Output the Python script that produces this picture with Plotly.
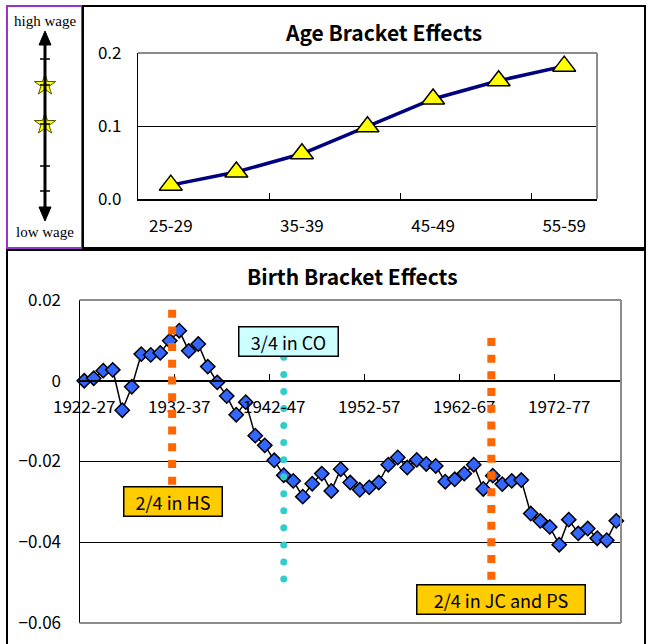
import numpy as np
import plotly.graph_objects as go

W, H = 651, 644
FONT = "Noto Sans CJK JP"

# ---------------- data ----------------
ages = ["25-29", "30-34", "35-39", "40-44", "45-49", "50-54", "55-59"]
age_effects = [0.019, 0.037, 0.062, 0.099, 0.137, 0.162, 0.182]
age_ytick_vals = [0.0, 0.1, 0.2]
age_ytick_text = ["0.0", "0.1", "0.2"]

cohorts = [f"{y}-{(y + 5) % 100:02d}" for y in range(1922, 1979)]
birth_effects = [
    0.0000, 0.0006, 0.0025, 0.0027, -0.0073, -0.0015, 0.0066, 0.0064, 0.0069, 0.0099,
    0.0124, 0.0074, 0.0091, 0.0035, -0.0004, -0.0038, -0.0084, -0.0053, -0.0136, -0.0160,
    -0.0197, -0.0234, -0.0248, -0.0287, -0.0255, -0.0230, -0.0273, -0.0219, -0.0252, -0.0270,
    -0.0264, -0.0252, -0.0208, -0.0190, -0.0215, -0.0196, -0.0206, -0.0211, -0.0250, -0.0244,
    -0.0230, -0.0208, -0.0268, -0.0235, -0.0256, -0.0248, -0.0246, -0.0329, -0.0347, -0.0362,
    -0.0406, -0.0344, -0.0378, -0.0366, -0.0390, -0.0395, -0.0347,
]
birth_ytick_vals = [0.02, 0.0, -0.02, -0.04, -0.06]
birth_ytick_text = ["0.02", "0", "\u22120.02", "\u22120.04", "\u22120.06"]

# marker lines (category position, top value, label, label value)
hs_marker = dict(x=9.25, top=0.0176, label="2/4 in HS", label_y=-0.0300, label_x=9.3, w=95)
co_marker = dict(x=21.0, top=0.0058, bottom=-0.0491, label="3/4 in CO", label_y=0.0097, label_x=21.55, w=96)
jc_marker = dict(x=42.85, top=0.0106, label="2/4 in JC and PS", label_y=-0.0541, label_x=43.9, w=165)

# ---------------- figure ----------------
fig = go.Figure()

age_idx = np.arange(len(ages))
fig.add_trace(go.Scatter(
    x=age_idx, y=age_effects, mode="lines+markers",
    line=dict(color="#000080", width=3.5),
    marker=dict(symbol="triangle-up", size=20, color="#FFFF00",
                line=dict(color="black", width=1.5)),
    xaxis="x", yaxis="y", showlegend=False, cliponaxis=False,
))

b_idx = np.arange(len(cohorts))
fig.add_trace(go.Scatter(
    x=b_idx, y=birth_effects, mode="lines+markers",
    line=dict(color="black", width=1.5),
    marker=dict(symbol="diamond", size=11, color="#3366FF",
                line=dict(color="black", width=1.5)),
    xaxis="x2", yaxis="y2", showlegend=False, cliponaxis=False,
))

# cyan dotted line (round dots)
co_dots_y = np.linspace(co_marker["top"], co_marker["bottom"], 14)
fig.add_trace(go.Scatter(
    x=[co_marker["x"]] * len(co_dots_y), y=co_dots_y, mode="markers",
    marker=dict(size=7, color="#33CCCC"),
    xaxis="x2", yaxis="y2", showlegend=False, cliponaxis=False,
))

# left legend stars (pixel overlay axes)
fig.add_trace(go.Scatter(
    x=[45, 45], y=[85, 124], mode="markers",
    marker=dict(symbol="star", size=16, color="#FFFF00",
                line=dict(color="#555500", width=1)),
    xaxis="x3", yaxis="y3", showlegend=False,
))

top_x = [138 / W, 597 / W]
top_y = [1 - 199 / H, 1 - 53 / H]
bot_x = [79.5 / W, 621 / W]
bot_y = [1 - 623 / H, 1 - 300 / H]
brange = [-0.06, 0.02]
x2_pos = bot_y[0] + (0 - brange[0]) / (brange[1] - brange[0]) * (bot_y[1] - bot_y[0])

tickfont = dict(family=FONT, size=17, color="black")

fig.update_layout(
    width=W, height=H, margin=dict(l=0, r=0, t=0, b=0, autoexpand=False),
    paper_bgcolor="white", plot_bgcolor="rgba(0,0,0,0)",
    xaxis=dict(domain=top_x, anchor="y", range=[-0.5, len(ages) - 0.5], automargin=False,
               tickmode="array", tickvals=age_idx[::2], ticktext=ages[::2],
               ticks="", showgrid=False, zeroline=False,
               showline=True, linecolor="black", linewidth=1.5,
               minor=dict(tickmode="array", tickvals=np.arange(1.5, len(ages) - 1, 2),
                          ticks="inside", ticklen=6, tickcolor="black", tickwidth=1, showgrid=False),
               tickfont=tickfont, ticklabelstandoff=11),
    yaxis=dict(domain=top_y, anchor="x", range=[0, 0.2], automargin=False,
               tickmode="array", tickvals=age_ytick_vals, ticktext=age_ytick_text,
               ticks="inside", ticklen=5, tickcolor="black",
               showgrid=True, gridcolor="black", gridwidth=1, zeroline=False,
               showline=True, linecolor="black", linewidth=1.2,
               tickfont=tickfont, ticklabelstandoff=12),
    xaxis2=dict(domain=bot_x, anchor="free", position=x2_pos, range=[-0.5, len(cohorts) - 0.5],
                automargin=False,
                tickmode="array", tickvals=b_idx[::10], ticktext=cohorts[::10],
                ticks="", showgrid=False, zeroline=False,
                showline=True, linecolor="black", linewidth=1.5,
                minor=dict(tickmode="array", tickvals=np.arange(9.5, len(cohorts) - 1, 10),
                           ticks="inside", ticklen=6, tickcolor="black", tickwidth=1, showgrid=False),
                tickfont=tickfont, ticklabelstandoff=11),
    yaxis2=dict(domain=bot_y, anchor="x2", range=brange, automargin=False,
                tickmode="array", tickvals=birth_ytick_vals, ticktext=birth_ytick_text,
                ticks="inside", ticklen=5, tickcolor="black",
                showgrid=True, gridcolor="black", gridwidth=1, zeroline=False,
                showline=True, linecolor="black", linewidth=1.2,
                tickfont=tickfont, ticklabelstandoff=14),
    xaxis3=dict(domain=[0, 1], anchor="y3", range=[0, W], visible=False, fixedrange=True,
                automargin=False),
    yaxis3=dict(domain=[0, 1], anchor="x3", range=[H, 0], visible=False, fixedrange=True,
                automargin=False),
)

shapes = []
GRAY = "#8c8c8c"
# plot area gray frames
for xr, yr, sides in [("x domain", "y domain", ["top", "right"]),
                      ("x2 domain", "y2 domain", ["top", "right", "bottom"])]:
    if "top" in sides:
        shapes.append(dict(type="line", xref=xr, yref=yr, x0=0, x1=1, y0=1, y1=1,
                           line=dict(color=GRAY, width=2), layer="above"))
    if "right" in sides:
        shapes.append(dict(type="line", xref=xr, yref=yr, x0=1, x1=1, y0=0, y1=1,
                           line=dict(color=GRAY, width=2), layer="above"))
    if "bottom" in sides:
        shapes.append(dict(type="line", xref=xr, yref=yr, x0=0, x1=1, y0=0, y1=0,
                           line=dict(color=GRAY, width=2), layer="above"))

# orange dashed markers
for m in [hs_marker, jc_marker]:
    shapes.append(dict(type="line", xref="x2", yref="y2", x0=m["x"], x1=m["x"],
                       y0=m["top"], y1=m["label_y"],
                       line=dict(color="#FF6600", width=8, dash="8px,8.7px"), layer="above"))

# outer boxes (pixel coords)
shapes.append(dict(type="rect", xref="x3", yref="y3", x0=7, x1=82, y0=6, y1=248,
                   line=dict(color="#9933CC", width=2)))
shapes.append(dict(type="rect", xref="x3", yref="y3", x0=83, x1=645, y0=6, y1=248,
                   line=dict(color="black", width=2)))
shapes.append(dict(type="rect", xref="x3", yref="y3", x0=7, x1=645, y0=250, y1=660,
                   line=dict(color="black", width=2)))
# left legend arrow
shapes.append(dict(type="line", xref="x3", yref="y3", x0=45, x1=45, y0=40, y1=212,
                   line=dict(color="black", width=3)))
shapes.append(dict(type="path", xref="x3", yref="y3", path="M 39,45 L 45,31 L 51,45 Z",
                   fillcolor="black", line=dict(color="black", width=1)))
shapes.append(dict(type="path", xref="x3", yref="y3", path="M 39,207 L 45,221 L 51,207 Z",
                   fillcolor="black", line=dict(color="black", width=1)))
for ty in [59, 85, 124, 166, 191]:
    shapes.append(dict(type="line", xref="x3", yref="y3", x0=40, x1=50, y0=ty, y1=ty,
                       line=dict(color="black", width=1.5)))
fig.update_layout(shapes=shapes)

annotations = [
    dict(text="<b>Age Bracket Effects</b>", xref="x3", yref="y3", x=383, y=32,
         showarrow=False, font=dict(family=FONT, size=21, color="black")),
    dict(text="<b>Birth Bracket Effects</b>", xref="x3", yref="y3", x=352, y=276,
         showarrow=False, font=dict(family=FONT, size=21, color="black")),
    dict(text="high wage", xref="x3", yref="y3", x=45, y=21, showarrow=False,
         font=dict(family="Liberation Serif", size=15, color="black")),
    dict(text="low wage", xref="x3", yref="y3", x=45, y=232, showarrow=False,
         font=dict(family="Liberation Serif", size=15, color="black")),
]
for m, bg in [(co_marker, "#CCFFFF"), (hs_marker, "#FFCC00"), (jc_marker, "#FFCC00")]:
    annotations.append(dict(
        text=m["label"], xref="x2", yref="y2", x=m["label_x"], y=m["label_y"],
        showarrow=False, width=m["w"], height=26, bgcolor=bg, bordercolor="black",
        borderwidth=1.5, borderpad=1, font=dict(family=FONT, size=18, color="black"),
    ))
fig.update_layout(annotations=annotations)

fig.write_html("out.html", config={"displayModeBar": False},
               post_script="document.body.style.margin='0';")
